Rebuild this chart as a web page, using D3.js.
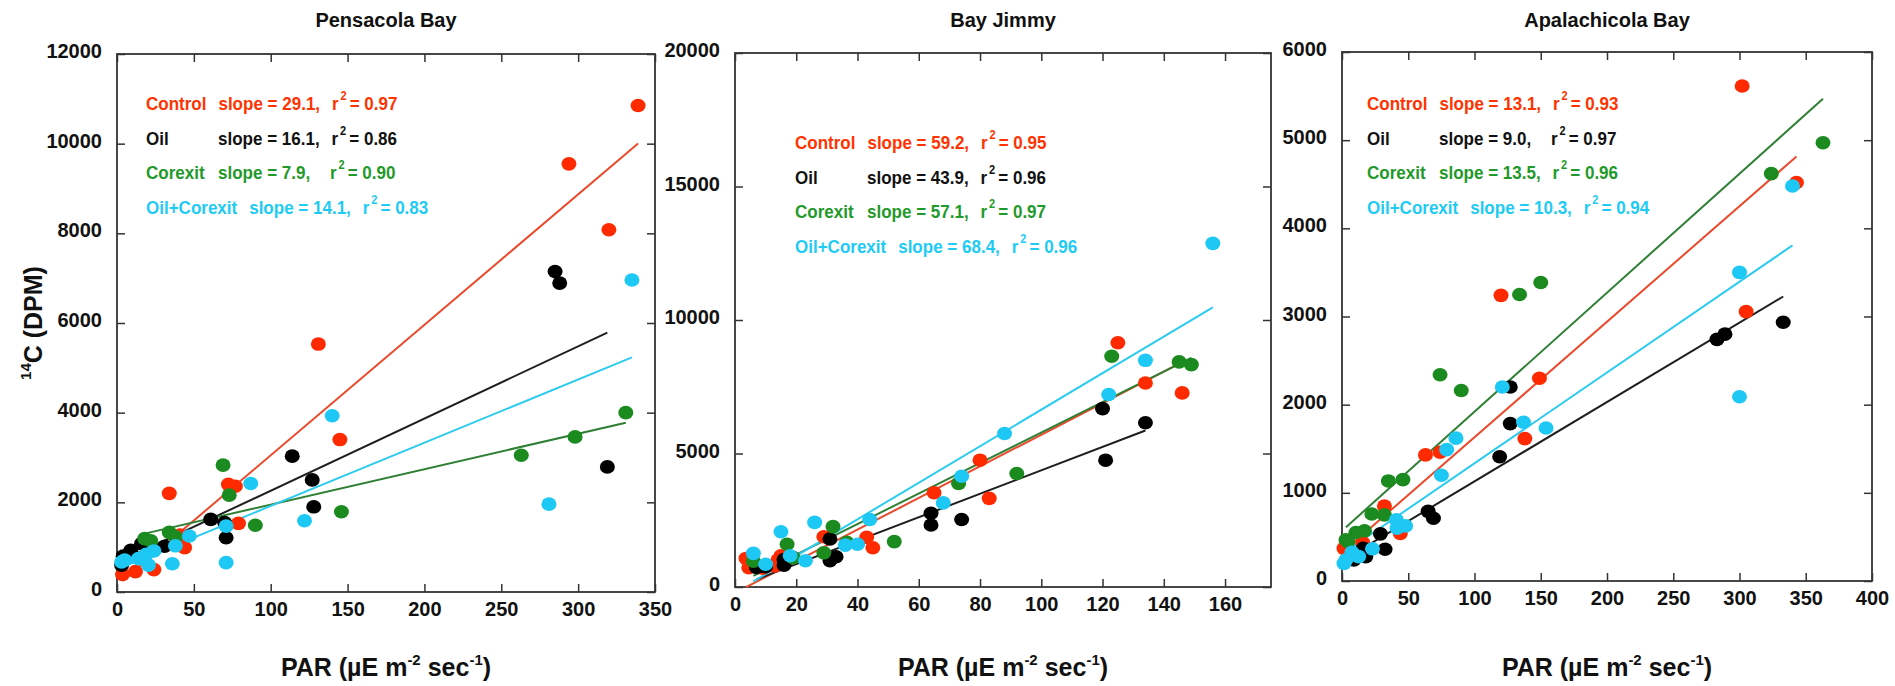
<!DOCTYPE html>
<html>
<head>
<meta charset="utf-8">
<script src="https://cdn.jsdelivr.net/npm/d3@7"></script>
<style>
  body { margin: 0; background: #fff; }
  svg { display: block; }
  text { font-family: "Liberation Sans", Arial, Helvetica, sans-serif; font-weight: bold; }
</style>
</head>
<body>
<svg id="chart" width="1895" height="686"></svg>
<script>
// ---- data ---------------------------------------------------------------
const seriesNames = ["Control", "Oil", "Corexit", "Oil+Corexit"];
const panelTitles = ["Pensacola Bay", "Bay Jimmy", "Apalachicola Bay"];

// [PAR, 14C DPM] pairs
const pensacolaControl = [[3.6,390],[12,455],[24,500],[34,2200],[41,1270],[44,990],[72.5,2400],[77,2360],[79,1530],[131,5530],[145,3400],[294,9550],[320,8080],[339,10850]];
const pensacolaOil = [[3,600],[4,800],[9,930],[16,1080],[31,1020],[61,1620],[70,1550],[71,1210],[114,3030],[127,2500],[128,1900],[285,7150],[288,6890],[319,2790]];
const pensacolaCorexit = [[18,1190],[22,1140],[34,1330],[38,1230],[69,2830],[73,2160],[90,1490],[146,1790],[263,3050],[298,3460],[331,4000]];
const pensacolaOilCorexit = [[3,670],[5,710],[14,745],[19,840],[20.5,600],[24,916],[36,630],[38,1030],[47,1250],[71,1470],[71,655],[87,2420],[122,1590],[140,3930],[281,1960],[335,6960]];

const bayJimmyControl = [[3.6,1070],[4.5,720],[9,700],[13,790],[14,1010],[15,1170],[29,1880],[43,1860],[45,1470],[65,3530],[80,4750],[83,3320],[125,9150],[134,7640],[146,7270]];
const bayJimmyOil = [[7,735],[10,760],[16,820],[16,1030],[31,985],[31,1800],[33,1135],[64,2760],[64,2320],[74,2530],[120,6680],[121,4750],[134,6150]];
const bayJimmyCorexit = [[6,970],[17,1600],[19,1100],[29,1280],[32,2260],[36.5,1670],[52,1700],[73,3880],[92,4250],[123,8640],[145,8430],[149,8330]];
const bayJimmyOilCorexit = [[6,1260],[10,850],[15,2070],[18,1170],[23,985],[26,2420],[36,1570],[40,1600],[44,2530],[68,3150],[74,4150],[88,5750],[122,7210],[134,8490],[156,12870]];

const apalachicolaControl = [[1.5,370],[15.6,435],[32,850],[44,540],[63,1430],[74,1460],[120,3240],[138,1615],[149,2300],[302,5615],[305,3055],[343,4520]];
const apalachicolaOil = [[9,240],[16,370],[18,277],[29,535],[32.5,360],[65,790],[69,712],[119,1410],[127,2200],[127,1785],[283,2740],[289,2800],[333,2935]];
const apalachicolaCorexit = [[3,466],[4.5,445],[10.5,550],[17,570],[22.5,760],[32,750],[35,1135],[46,1150],[74,2340],[90,2160],[134,3250],[150,3385],[324,4620],[363,4970]];
const apalachicolaOilCorexit = [[1.5,200],[3,240],[7.5,325],[12.6,277],[23,365],[41,693],[41.5,600],[48,625],[75,1200],[79,1490],[86,1620],[121,2200],[137,1800],[154,1735],[300,3500],[300,2090],[340,4480]];

// linear fits (slope, r², intercept) per series
const pensacolaSlopes = [29.1, 16.1, 7.9, 14.1];
const pensacolaR2 = [0.97, 0.86, 0.90, 0.83];
const pensacolaIntercepts = [140, 650, 1160, 510];

const bayJimmySlopes = [59.2, 43.9, 57.1, 68.4];
const bayJimmyR2 = [0.95, 0.96, 0.97, 0.96];
const bayJimmyIntercepts = [-217, -20, 75, -200];

const apalachicolaSlopes = [13.1, 9.0, 13.5, 10.3];
const apalachicolaR2 = [0.93, 0.97, 0.96, 0.94];
const apalachicolaIntercepts = [321, 230, 570, 305];

// axis ticks and extents
const pensacolaXTicks = [0, 50, 100, 150, 200, 250, 300, 350];
const pensacolaYTicks = [0, 2000, 4000, 6000, 8000, 10000, 12000];
const pensacolaXDomain = [0, 350];
const pensacolaYDomain = [0, 12000];

const bayJimmyXTicks = [0, 20, 40, 60, 80, 100, 120, 140, 160];
const bayJimmyYTicks = [0, 5000, 10000, 15000, 20000];
const bayJimmyXDomain = [0, 175];
const bayJimmyYDomain = [0, 20000];

const apalachicolaXTicks = [0, 50, 100, 150, 200, 250, 300, 350, 400];
const apalachicolaYTicks = [0, 1000, 2000, 3000, 4000, 5000, 6000];
const apalachicolaXDomain = [0, 400];
const apalachicolaYDomain = [0, 6000];

// ---- assemble panels ----------------------------------------------------
const panels = [
  { title: panelTitles[0], series: [pensacolaControl, pensacolaOil, pensacolaCorexit, pensacolaOilCorexit],
    slopes: pensacolaSlopes, r2: pensacolaR2, intercepts: pensacolaIntercepts,
    xTicks: pensacolaXTicks, yTicks: pensacolaYTicks, xDomain: pensacolaXDomain, yDomain: pensacolaYDomain },
  { title: panelTitles[1], series: [bayJimmyControl, bayJimmyOil, bayJimmyCorexit, bayJimmyOilCorexit],
    slopes: bayJimmySlopes, r2: bayJimmyR2, intercepts: bayJimmyIntercepts,
    xTicks: bayJimmyXTicks, yTicks: bayJimmyYTicks, xDomain: bayJimmyXDomain, yDomain: bayJimmyYDomain },
  { title: panelTitles[2], series: [apalachicolaControl, apalachicolaOil, apalachicolaCorexit, apalachicolaOilCorexit],
    slopes: apalachicolaSlopes, r2: apalachicolaR2, intercepts: apalachicolaIntercepts,
    xTicks: apalachicolaXTicks, yTicks: apalachicolaYTicks, xDomain: apalachicolaXDomain, yDomain: apalachicolaYDomain }
];

// ---- layout & style -----------------------------------------------------
const frames = [
  { left: 117, right: 655, top: 54, bottom: 592, legendX: 146, legendY: 110 },
  { left: 735, right: 1271, top: 53, bottom: 587, legendX: 795, legendY: 149 },
  { left: 1342, right: 1872, top: 52, bottom: 581, legendX: 1367, legendY: 110 }
];
const dotColors  = ["#ff2a00", "#000000", "#1b8a1f", "#1ec8f4"];
const lineColors = ["#ea4a2c", "#1e1e1e", "#2f7f35", "#2ccbef"];
const textColors = ["#ff3300", "#111111", "#1f9a2a", "#1ecbf5"];
const axisColor = "#333";
const legendSquash = 0.92;   // legend text is set slightly condensed

const svg = d3.select("#chart");

panels.forEach((p, pi) => {
  const f = frames[pi];
  const x = d3.scaleLinear().domain(p.xDomain).range([f.left, f.right]);
  const y = d3.scaleLinear().domain(p.yDomain).range([f.bottom, f.top]);
  const g = svg.append("g");

  // title
  g.append("text")
    .attr("x", (f.left + f.right) / 2).attr("y", 27)
    .attr("text-anchor", "middle").attr("font-size", 20).attr("fill", "#111")
    .text(p.title);

  // axes with inward ticks on all four sides
  const tick = 8;
  const bottom = g.append("g").attr("transform", `translate(0,${f.bottom})`)
    .call(d3.axisBottom(x).tickValues(p.xTicks).tickSizeInner(-tick).tickSizeOuter(0).tickPadding(10).tickFormat(d3.format("d")));
  const left = g.append("g").attr("transform", `translate(${f.left},0)`)
    .call(d3.axisLeft(y).tickValues(p.yTicks).tickSizeInner(-tick).tickSizeOuter(0).tickPadding(15).tickFormat(d3.format("d")));
  const top = g.append("g").attr("transform", `translate(0,${f.top})`)
    .call(d3.axisTop(x).tickValues(p.xTicks).tickSizeInner(-tick).tickSizeOuter(0).tickFormat(""));
  const right = g.append("g").attr("transform", `translate(${f.right},0)`)
    .call(d3.axisRight(y).tickValues(p.yTicks).tickSizeInner(-tick).tickSizeOuter(0).tickFormat(""));

  [bottom, left, top, right].forEach(a => {
    a.select(".domain").remove();
    a.selectAll(".tick line").attr("stroke", axisColor).attr("stroke-width", 1.5);
    a.selectAll(".tick text").attr("font-size", 20).attr("fill", "#111")
      .style("font-family", "'Liberation Sans', Arial, sans-serif").style("font-weight", "bold");
  });
  left.selectAll(".tick text").attr("dy", "0.18em");

  // frame
  g.append("rect")
    .attr("x", f.left).attr("y", f.top)
    .attr("width", f.right - f.left).attr("height", f.bottom - f.top)
    .attr("fill", "none").attr("stroke", axisColor).attr("stroke-width", 1.8);

  // regression lines over each series' PAR range
  p.series.forEach((pts, si) => {
    const ext = d3.extent(pts, d => d[0]);
    const fit = v => p.slopes[si] * v + p.intercepts[si];
    g.append("line")
      .attr("x1", x(ext[0])).attr("y1", y(fit(ext[0])))
      .attr("x2", x(ext[1])).attr("y2", y(fit(ext[1])))
      .attr("stroke", lineColors[si]).attr("stroke-width", 2);
  });

  // measurement points
  p.series.forEach((pts, si) => {
    g.append("g").selectAll("ellipse").data(pts).join("ellipse")
      .attr("cx", d => x(d[0])).attr("cy", d => y(d[1]))
      .attr("rx", 7.5).attr("ry", 6.8)
      .attr("fill", dotColors[si]);
  });

  // fit statistics (positions computed in unsquashed units)
  const rowGap = 34.5;
  seriesNames.forEach((name, si) => {
    const row = g.append("g")
      .attr("transform", `translate(${f.legendX},${f.legendY + si * rowGap}) scale(${legendSquash},1)`)
      .attr("fill", textColors[si]).attr("font-size", 18.5);
    const nameT = row.append("text").attr("x", 0).text(name);
    const slopeX = Math.max(72 / legendSquash, nameT.node().getComputedTextLength() + 13);
    const slopeT = row.append("text").attr("x", slopeX)
      .text(`slope = ${p.slopes[si].toFixed(1)},`);
    const rX = Math.max(184 / legendSquash, slopeX + slopeT.node().getComputedTextLength() + 13);
    const rT = row.append("text").attr("x", rX).text("r");
    const rW = rT.node().getComputedTextLength();
    row.append("text").attr("x", rX + rW + 2).attr("y", -10).attr("font-size", 12).text("2");
    row.append("text").attr("x", rX + rW + 12).text(`= ${p.r2[si].toFixed(2)}`);
  });

  // x-axis title
  const xt = g.append("text")
    .attr("x", (f.left + f.right) / 2).attr("y", 676)
    .attr("text-anchor", "middle").attr("font-size", 25).attr("fill", "#111");
  xt.append("tspan").text("PAR (\u00b5E m");
  xt.append("tspan").attr("font-size", 15).attr("dy", -11).text("-2");
  xt.append("tspan").attr("dy", 11).text(" sec");
  xt.append("tspan").attr("font-size", 15).attr("dy", -11).text("-1");
  xt.append("tspan").attr("dy", 11).text(")");
});

// y-axis title on the first panel
const yt = svg.append("text")
  .attr("transform", `translate(42,${(frames[0].top + frames[0].bottom) / 2}) rotate(-90)`)
  .attr("text-anchor", "middle").attr("font-size", 25).attr("fill", "#111");
yt.append("tspan").attr("font-size", 15).attr("dy", -11).text("14");
yt.append("tspan").attr("dy", 11).text("C (DPM)");
</script>
</body>
</html>
